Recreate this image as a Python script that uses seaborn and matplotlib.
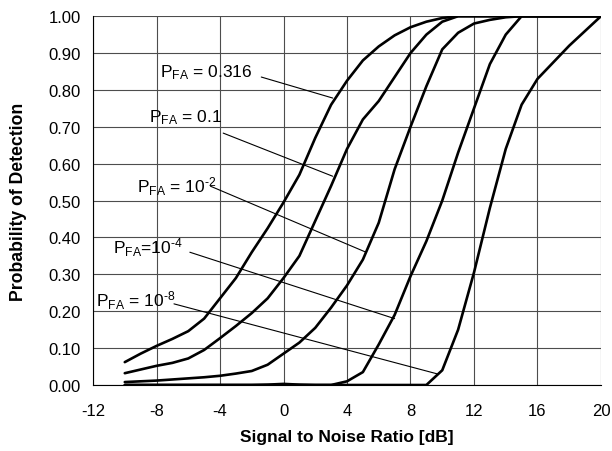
import matplotlib
matplotlib.use('Agg')
import matplotlib.pyplot as plt
import seaborn as sns
import pandas as pd

# probability of detection vs SNR for several false alarm probabilities
snr = list(range(-10, 21))
pd_fa_0316 = [0.062, 0.085, 0.106, 0.125, 0.146, 0.18, 0.235, 0.29, 0.36, 0.425, 0.495,
              0.57, 0.67, 0.76, 0.825, 0.88, 0.918, 0.948, 0.97, 0.985, 0.995,
              1.0, 1.0, 1.0, 1.0, 1.0, 1.0, 1.0, 1.0, 1.0, 1.0]
pd_fa_01 = [0.032, 0.042, 0.052, 0.06, 0.072, 0.095, 0.127, 0.16, 0.195, 0.235, 0.29,
            0.35, 0.445, 0.54, 0.64, 0.72, 0.77, 0.835, 0.9, 0.95, 0.985,
            1.0, 1.0, 1.0, 1.0, 1.0, 1.0, 1.0, 1.0, 1.0, 1.0]
pd_fa_1e2 = [0.008, 0.01, 0.012, 0.015, 0.018, 0.021, 0.025, 0.031, 0.038, 0.055, 0.085,
             0.115, 0.155, 0.21, 0.27, 0.34, 0.44, 0.585, 0.70, 0.81, 0.91,
             0.955, 0.98, 0.99, 0.997, 1.0, 1.0, 1.0, 1.0, 1.0, 1.0]
pd_fa_1e4 = [0.0, 0.0, 0.0, 0.0, 0.0, 0.0, 0.0, 0.0, 0.0, 0.001, 0.003,
             0.001, 0.0, 0.0, 0.01, 0.035, 0.11, 0.19, 0.295, 0.39, 0.5,
             0.63, 0.75, 0.87, 0.95, 1.0, 1.0, 1.0, 1.0, 1.0, 1.0]
pd_fa_1e8 = [0.0, 0.0, 0.0, 0.0, 0.0, 0.0, 0.0, 0.0, 0.0, 0.0, 0.0,
             0.0, 0.0, 0.0, 0.0, 0.0, 0.0, 0.0, 0.0, 0.0, 0.04,
             0.15, 0.305, 0.48, 0.64, 0.76, 0.83, 0.875, 0.92, 0.96, 1.0]

curves = [pd_fa_0316, pd_fa_01, pd_fa_1e2, pd_fa_1e4, pd_fa_1e8]
labels = ['P$_{FA}$ = 0.316', 'P$_{FA}$ = 0.1', 'P$_{FA}$ = 10$^{\\text{-}2}$',
          'P$_{FA}$=10$^{\\text{-}4}$', 'P$_{FA}$ = 10$^{\\text{-}8}$']
x_ticks = [-12, -8, -4, 0, 4, 8, 12, 16, 20]
y_ticks = [0.0, 0.1, 0.2, 0.3, 0.4, 0.5, 0.6, 0.7, 0.8, 0.9, 1.0]

sns.set_style('white')
plt.rcParams['font.family'] = ['Liberation Sans', 'DejaVu Sans']
plt.rcParams['mathtext.fontset'] = 'custom'
plt.rcParams['mathtext.rm'] = 'Liberation Sans'
plt.rcParams['mathtext.default'] = 'regular'
plt.rcParams['axes.unicode_minus'] = False
plt.rcParams['text.color'] = 'black'
plt.rcParams['axes.labelcolor'] = 'black'
plt.rcParams['xtick.color'] = 'black'
plt.rcParams['ytick.color'] = 'black'

fig = plt.figure(figsize=(6.12, 4.52), dpi=100)
ax = fig.add_axes([0.152, 0.146, 0.83, 0.816])

for c in curves:
    sns.lineplot(x=snr, y=c, color='black', linewidth=1.9, ax=ax)

# text position (left, baseline) and leader line start/end
text_pos = [(-7.75, 0.837), (-8.5, 0.715), (-9.2, 0.523), (-10.75, 0.36), (-11.8, 0.214)]
leaders = [((-1.4, 0.835), (3.1, 0.778)),
           ((-3.8, 0.683), (3.1, 0.566)),
           ((-4.6, 0.539), (5.2, 0.36)),
           ((-5.9, 0.36), (7.0, 0.18)),
           ((-6.9, 0.22), (9.7, 0.03))]
for lab, (tx, ty), (p0, p1) in zip(labels, text_pos, leaders):
    ax.text(tx, ty, lab, fontsize=12.5, va='baseline', ha='left')
    ax.plot([p0[0], p1[0]], [p0[1], p1[1]], color='black', linewidth=0.8)

ax.set_xlim(-12, 20)
ax.set_ylim(0, 1)
ax.set_xticks(x_ticks)
ax.set_yticks(y_ticks)
ax.set_yticklabels(['%.2f' % v for v in y_ticks])
ax.grid(True, color='#4d4d4d', linewidth=0.8)
ax.tick_params(axis='both', direction='out', length=4, width=0.8, labelsize=12, color='black')
ax.tick_params(axis='x', pad=9)
ax.tick_params(axis='y', pad=5)
for s in ['top', 'right']:
    ax.spines[s].set_visible(False)
ax.spines['left'].set_color('black')
ax.spines['bottom'].set_color('black')

ax.set_xlabel('Signal to Noise Ratio [dB]', fontsize=12.5, fontweight='bold', labelpad=8)
ax.set_ylabel('Probability of Detection', fontsize=12.7, fontweight='bold', labelpad=15)

fig.savefig('out.png', dpi=100)
